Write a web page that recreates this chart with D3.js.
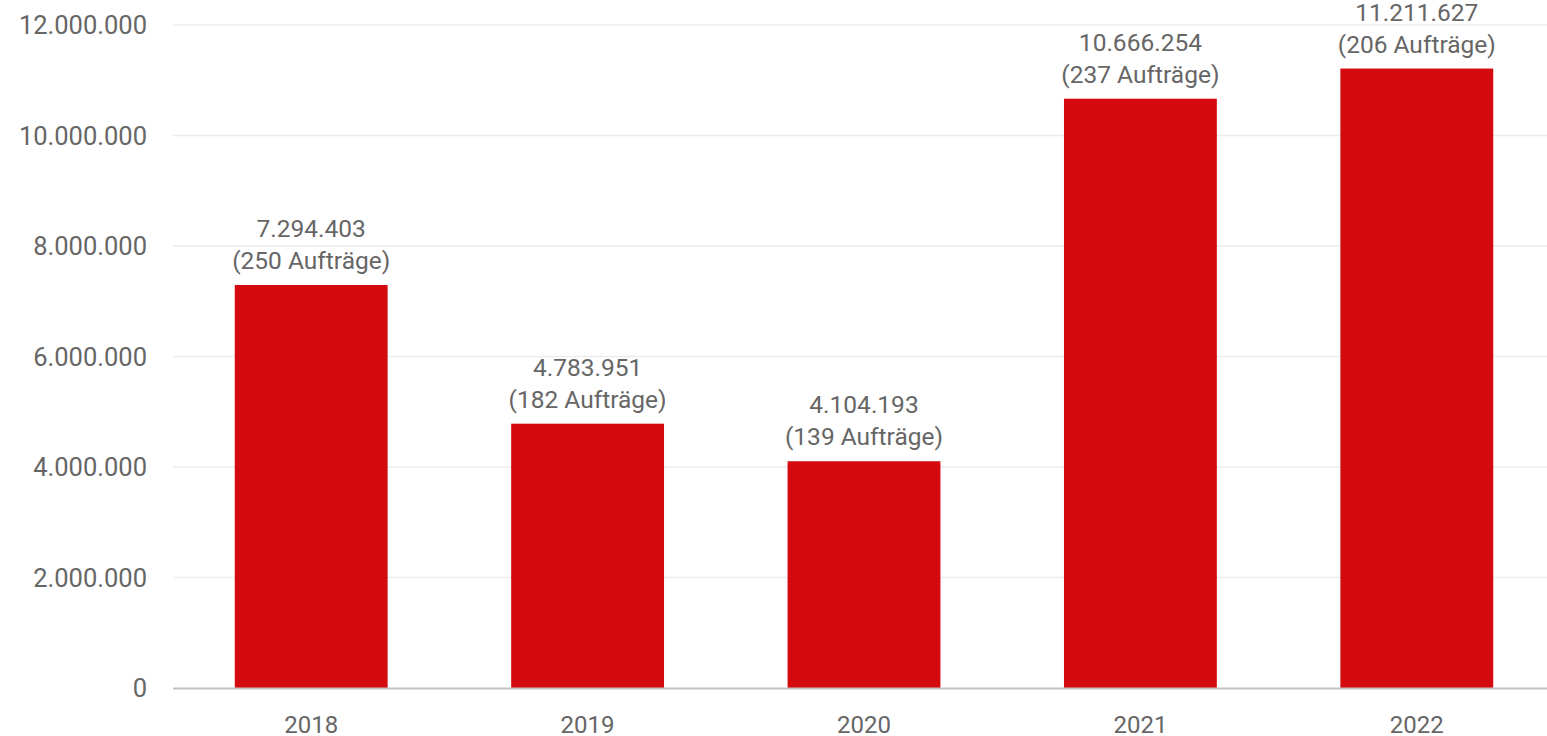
<!DOCTYPE html>
<html>
<head>
<meta charset="utf-8">
<script src="https://cdn.jsdelivr.net/npm/d3@7"></script>
<style>
  body { margin: 0; background: #fff; }
  text { font-family: Roboto, "Open Sans", sans-serif; }
</style>
</head>
<body>
<svg id="chart" width="1547" height="736"></svg>
<script>
var years = ["2018", "2019", "2020", "2021", "2022"];
var volumes = [7294403, 4783951, 4104193, 10666254, 11211627];
var orders = [250, 182, 139, 237, 206];
var yTicks = [0, 2000000, 4000000, 6000000, 8000000, 10000000, 12000000];

var de = d3.formatLocale({ decimal: ",", thousands: ".", grouping: [3], currency: ["", " €"] });
var fmt = de.format(",d");

var svg = d3.select("#chart");
var margin = { top: 25, right: 0, bottom: 48, left: 173 };
var width = 1547 - margin.left - margin.right;
var height = 736 - margin.top - margin.bottom;

var g = svg.append("g").attr("transform", `translate(${margin.left},${margin.top})`);

var x = d3.scaleBand().domain(years).range([0, 1382]).paddingInner(0.447).paddingOuter(0.2235);
var y = d3.scaleLinear().domain([0, 12000000]).range([height, 0]);

// gridlines
g.selectAll(".grid")
  .data(yTicks.filter(d => d > 0))
  .enter().append("line")
  .attr("x1", 0).attr("x2", width)
  .attr("y1", d => y(d)).attr("y2", d => y(d))
  .attr("stroke", "#ececec").attr("stroke-width", 1.5);

// y labels
g.selectAll(".ylab")
  .data(yTicks)
  .enter().append("text")
  .attr("x", -26).attr("y", d => y(d))
  .attr("dy", "0.36em")
  .attr("text-anchor", "end")
  .attr("fill", "#666")
  .attr("font-size", 25.5)
  .text(d => fmt(d));

var data = years.map((yr, i) => ({ year: yr, v: volumes[i], n: orders[i] }));

g.selectAll(".bar")
  .data(data)
  .enter().append("rect")
  .attr("x", d => x(d.year))
  .attr("width", x.bandwidth())
  .attr("y", d => y(d.v))
  .attr("height", d => height - y(d.v))
  .attr("fill", "#d50a0e");

// baseline
g.append("line")
  .attr("x1", 0).attr("x2", width)
  .attr("y1", height + 0.5).attr("y2", height + 0.5)
  .attr("stroke", "#c2c2c2").attr("stroke-width", 2);

// value labels
var lab = g.selectAll(".vlab")
  .data(data)
  .enter().append("text")
  .attr("text-anchor", "middle")
  .attr("fill", "#666")
  .attr("font-size", 24.5);
lab.append("tspan")
  .attr("x", d => x(d.year) + x.bandwidth() / 2)
  .attr("y", d => y(d.v) - 48)
  .text(d => fmt(d.v));
lab.append("tspan")
  .attr("x", d => x(d.year) + x.bandwidth() / 2)
  .attr("y", d => y(d.v) - 16)
  .text(d => "(" + d.n + " Aufträge)");

// x labels
g.selectAll(".xlab")
  .data(years)
  .enter().append("text")
  .attr("x", d => x(d) + x.bandwidth() / 2)
  .attr("y", height + 45)
  .attr("text-anchor", "middle")
  .attr("fill", "#666")
  .attr("font-size", 24)
  .text(d => d);
</script>
</body>
</html>
